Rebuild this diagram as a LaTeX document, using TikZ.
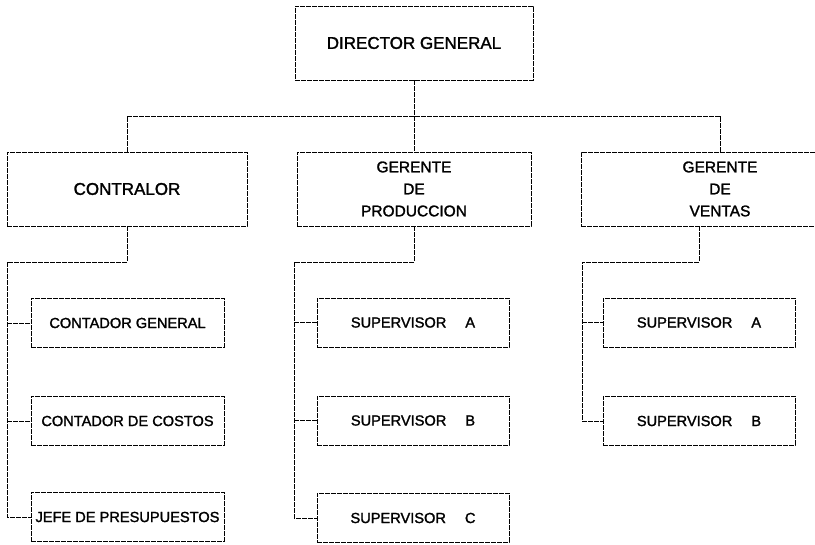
\documentclass[tikz,border=0pt]{standalone}
\usepackage{fontspec}
\setmainfont{Liberation Sans}[BoldFont=Liberation Sans,BoldFeatures={FakeBold=1.6}]
\begin{document}
\begin{tikzpicture}[x=1pt,y=-1pt,line width=0.8pt,
	line/.style={dash pattern=on 5pt off 1pt},
	box/.style={draw,line,minimum width=238pt,minimum height=74pt,align=center,inner sep=0pt,font=\fontsize{15.5}{22}\selectfont\bfseries},
	big/.style={font=\fontsize{17}{22}\selectfont\bfseries},
	sub/.style={draw,line,minimum width=193pt,minimum height=49pt,inner sep=0pt,font=\fontsize{14.6}{16}\selectfont\bfseries}]
	\useasboundingbox (0,0) rectangle (815,545);
	\clip (0,0) rectangle (815,545);
	\node[box,big] (dir) at (414,43) {DIRECTOR GENERAL};
	\node[box,big,minimum width=240pt] (con) at (127,189) {CONTRALOR};
	\node[box,minimum width=234pt] (pro) at (414,189) {GERENTE\\DE\\PRODUCCION};
	\node[box,minimum width=278pt] (ven) at (720,189) {GERENTE\\DE\\VENTAS};
	\foreach \n/\y/\t in {cg/323/CONTADOR GENERAL, cc/421/CONTADOR DE COSTOS, jp/517/JEFE DE PRESUPUESTOS}{\node[sub] (\n) at (127.5,\y) {\t};}
	\foreach \n/\y/\l in {pa/322.5/A, pb/420.5/B, pc/518/C}{\node[sub,minimum width=192pt] (\n) at (413,\y) {SUPERVISOR\hspace{1.3em}\l};}
	\foreach \n/\y/\l in {va/322.5/A, vb/421/B}{\node[sub,minimum width=192pt] (\n) at (699,\y) {SUPERVISOR\hspace{1.3em}\l};}
	\coordinate (bus) at (414,116);
	\coordinate (ct) at (7,262);
	\coordinate (pt) at (294,262);
	\coordinate (vt) at (582,262);
	\draw[line] (dir) -- (pro);
	\draw[line] (con.north) -- (con.north |- bus) -- (ven.north |- bus) -- (ven.north);
	\draw[line] (con.south) |- (ct) |- (jp.west);
	\foreach \n in {cg,cc}{\draw[line] (ct |- \n.west) -- (\n.west);}
	\draw[line] (pro.south) |- (pt) |- (pc.west);
	\foreach \n in {pa,pb}{\draw[line] (pt |- \n.west) -- (\n.west);}
	\draw[line] (va.north |- ven.south) |- (vt) |- (vb.west);
	\draw[line] (vt |- va.west) -- (va.west);
\end{tikzpicture}
\end{document}
